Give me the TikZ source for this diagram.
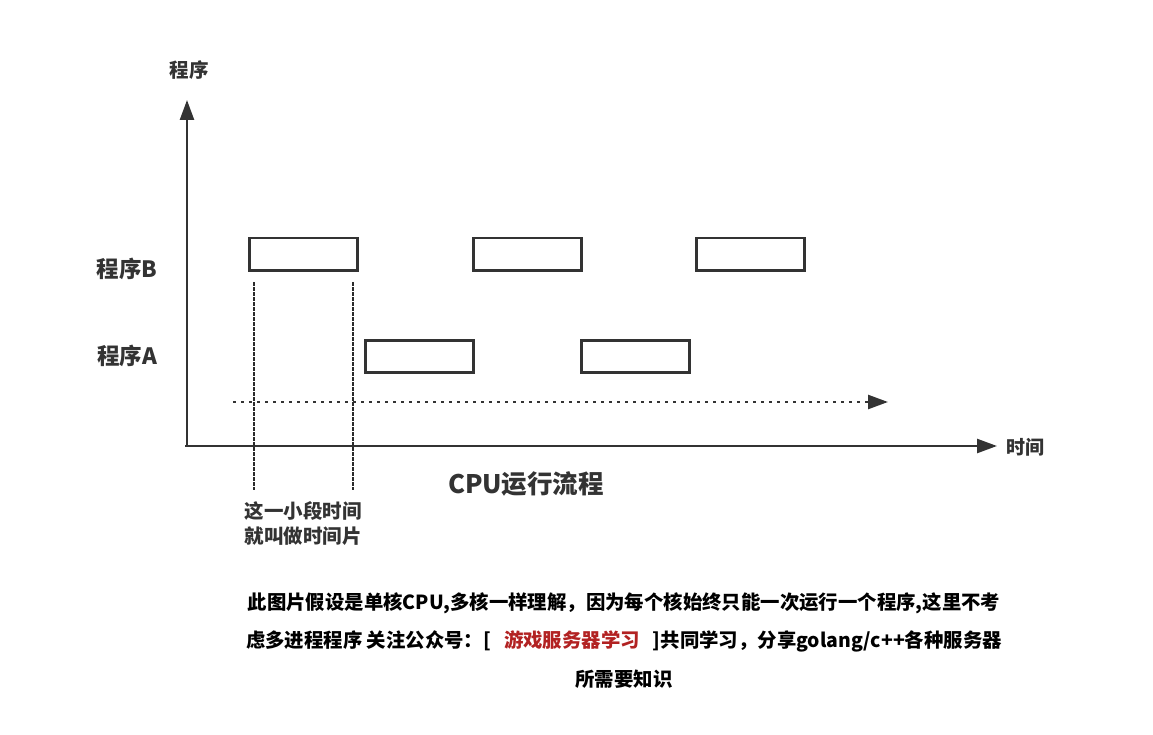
\documentclass[tikz,border=0pt]{standalone}
\usepackage{fontspec}
\setmainfont{Noto Sans CJK SC}
\usetikzlibrary{arrows.meta}
\definecolor{ink}{HTML}{333333}
\definecolor{redtxt}{HTML}{B22222}
\tikzset{
  axis/.style={draw=ink, line width=2.5pt, -{Triangle[length=20pt,width=14pt]}},
  slot/.style={draw=ink, line width=2.5pt, minimum width=108pt, minimum height=32pt, inner sep=0pt, anchor=north west},
  lbl/.style={text=ink, font=\bfseries, inner sep=0pt},
  vdash/.style={draw=ink!85!black, line width=2.4pt, dash pattern=on 3.5pt off 1.5pt},
  tdots/.style={draw=ink, line width=2.5pt, dash pattern=on 3pt off 5pt, -{Triangle[length=20pt,width=14pt]}}
}
\begin{document}
\begin{tikzpicture}[x=1pt,y=-1pt]
\useasboundingbox (0,0) rectangle (1153,735);
% axes
\coordinate (O) at (187,446);
\coordinate (Ytip) at (187,100);
\coordinate (Xtip) at (997,446);
\coordinate (Xstart) at (185,446);
\draw[axis] (O) -- (Ytip);
\draw[axis] (Xstart) -- (Xtip);
\node[lbl, font=\fontsize{19.5}{22}\selectfont\bfseries] (ylab) at (189,70) {程序};
\node[lbl, font=\fontsize{19}{22}\selectfont\bfseries, anchor=west] (xlab) at (1006,447) {时间};
% program labels
\node[lbl, font=\fontsize{22.5}{25}\selectfont\bfseries] (pB) at (127,269) {程序B};
\node[lbl, font=\fontsize{22.5}{25}\selectfont\bfseries] (pA) at (127,356) {程序A};
% slots
\node[slot] (b1) at (248,237) {};
\node[slot] (b2) at (472,237) {};
\node[slot] (b3) at (695,237) {};
\node[slot] (a1) at (364,339) {};
\node[slot] (a2) at (580,339) {};
% dotted time arrow
\coordinate (ds) at (233,402);
\coordinate (de) at (888,402);
\draw[tdots] (ds) -- (de);
% dashed verticals
\coordinate (v1t) at (254,282);
\coordinate (v1b) at (254,490);
\coordinate (v2t) at (353,282);
\coordinate (v2b) at (353,490);
\draw[vdash] (v1t) -- (v1b);
\draw[vdash] (v2t) -- (v2b);
\node[lbl, font=\fontsize{19.5}{25}\selectfont\bfseries, align=center] (slice) at (303,524) {这一小段时间\\就叫做时间片};
\node[lbl, font=\fontsize{25.5}{30}\selectfont\bfseries] (title) at (526,484) {CPU运行流程};
% bottom text
\node[lbl, text=black, font=\fontsize{19.4}{22}\selectfont\bfseries] (t1) at (624,603) {此图片假设是单核CPU,多核一样理解，因为每个核始终只能一次运行一个程序,这里不考};
\node[lbl, text=black, font=\fontsize{19.4}{22}\selectfont\bfseries] (t2) at (624,641) {虑多进程程序 关注公众号：[\hspace{13pt}\textcolor{redtxt}{游戏服务器学习}\hspace{13pt}]共同学习，分享golang/c{}+{}+各种服务器};
\node[lbl, text=black, font=\fontsize{19.4}{22}\selectfont\bfseries] (t3) at (624,679) {所需要知识};
\end{tikzpicture}
\end{document}
